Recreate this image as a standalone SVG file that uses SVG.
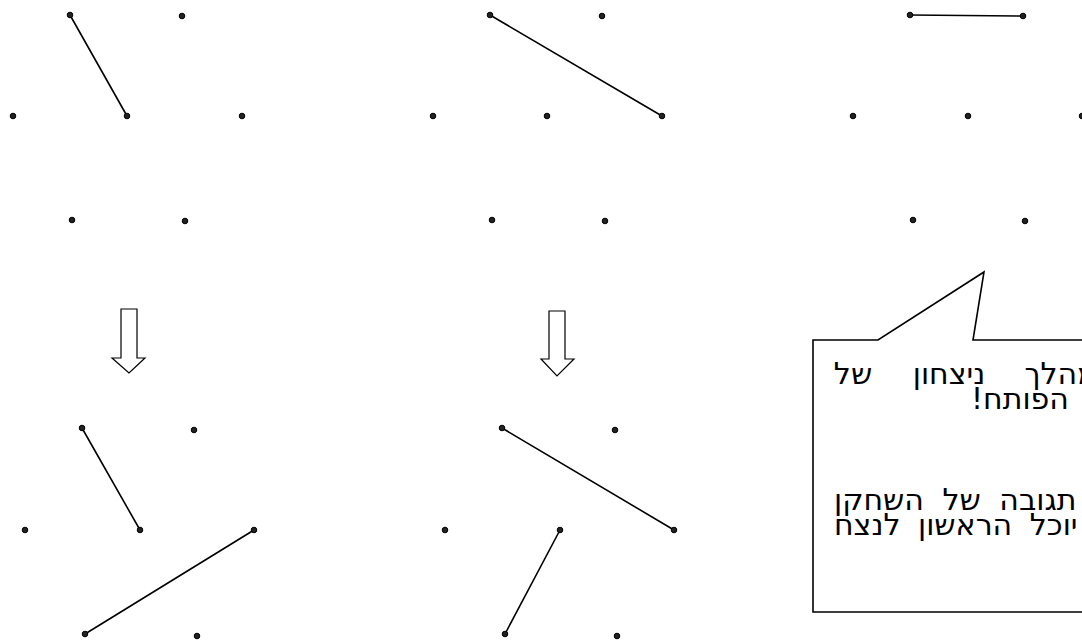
<svg xmlns="http://www.w3.org/2000/svg" width="1082" height="641" viewBox="0 0 1082 641">
<style>
.dot{fill:#222;stroke:#000;stroke-width:1}
.seg{stroke:#000;stroke-width:1.6;fill:none;stroke-linecap:round}
.arrow{fill:#fff;stroke:#000;stroke-width:1.2;stroke-linejoin:miter}
.callout{fill:#fff;stroke:#000;stroke-width:1.6}
.heb{font-family:"DejaVu Sans",sans-serif;font-size:30px;fill:#000}
</style>
<rect width="1082" height="641" fill="#fff"/>
<g id="connectors">
<line class="seg" x1="70" y1="15" x2="127" y2="116"/>
<line class="seg" x1="490" y1="15" x2="662" y2="116"/>
<line class="seg" x1="910" y1="15" x2="1023" y2="16"/>
<line class="seg" x1="82" y1="428" x2="140" y2="530"/>
<line class="seg" x1="254" y1="530" x2="85" y2="634"/>
<line class="seg" x1="502" y1="428" x2="674" y2="530"/>
<line class="seg" x1="560" y1="530" x2="505" y2="634"/>
</g>
<g id="panel-top-1">
<circle class="dot" cx="70" cy="15" r="2.8"/><circle class="dot" cx="182" cy="16" r="2.8"/>
<circle class="dot" cx="13" cy="116" r="2.8"/><circle class="dot" cx="127" cy="116" r="2.8"/><circle class="dot" cx="242" cy="116" r="2.8"/>
<circle class="dot" cx="72" cy="220" r="2.8"/><circle class="dot" cx="185" cy="221" r="2.8"/>
</g>
<g id="panel-top-2">
<circle class="dot" cx="490" cy="15" r="2.8"/><circle class="dot" cx="602" cy="16" r="2.8"/>
<circle class="dot" cx="433" cy="116" r="2.8"/><circle class="dot" cx="547" cy="116" r="2.8"/><circle class="dot" cx="662" cy="116" r="2.8"/>
<circle class="dot" cx="492" cy="220" r="2.8"/><circle class="dot" cx="605" cy="221" r="2.8"/>
</g>
<g id="panel-top-3">
<circle class="dot" cx="910" cy="15" r="2.8"/><circle class="dot" cx="1023" cy="16" r="2.8"/>
<circle class="dot" cx="853" cy="116" r="2.8"/><circle class="dot" cx="968" cy="116" r="2.8"/><circle class="dot" cx="1082" cy="116" r="2.8"/>
<circle class="dot" cx="913" cy="220" r="2.8"/><circle class="dot" cx="1025" cy="221" r="2.8"/>
</g>
<g id="arrow-1"><path class="arrow" d="M121,309 H137 V358 H145 L129,373 L112,358 H121 Z"/></g>
<g id="arrow-2"><path class="arrow" d="M549,311 H565 V359 H574 L557,376 L541,359 H549 Z"/></g>
<g id="panel-bottom-1">
<circle class="dot" cx="82" cy="428" r="2.8"/><circle class="dot" cx="194" cy="430" r="2.8"/>
<circle class="dot" cx="25" cy="530" r="2.8"/><circle class="dot" cx="140" cy="530" r="2.8"/><circle class="dot" cx="254" cy="530" r="2.8"/>
<circle class="dot" cx="85" cy="634" r="2.8"/><circle class="dot" cx="197" cy="636" r="2.8"/>
</g>
<g id="panel-bottom-2">
<circle class="dot" cx="502" cy="428" r="2.8"/><circle class="dot" cx="615" cy="430" r="2.8"/>
<circle class="dot" cx="445" cy="530" r="2.8"/><circle class="dot" cx="560" cy="530" r="2.8"/><circle class="dot" cx="674" cy="530" r="2.8"/>
<circle class="dot" cx="505" cy="634" r="2.8"/><circle class="dot" cx="617" cy="636" r="2.8"/>
</g>
<g id="callout">
<path class="callout" d="M813,340 H878 L984,272 L973,340 H1095 V612 H813 Z"/>
<text class="heb" direction="rtl" y="384"><tspan x="853" text-anchor="middle">של</tspan><tspan x="949" text-anchor="middle">ניצחון</tspan><tspan x="1061" text-anchor="middle">מהלך</tspan></text>
<text class="heb" direction="rtl" x="1020" y="409" text-anchor="middle">הפותח!</text>
<text class="heb" direction="rtl" x="834" y="510" text-anchor="end" word-spacing="9">תגובה של השחקן</text>
<text class="heb" direction="rtl" x="834" y="535" text-anchor="end" word-spacing="8">יוכל הראשון לנצח</text>
</g>
</svg>
